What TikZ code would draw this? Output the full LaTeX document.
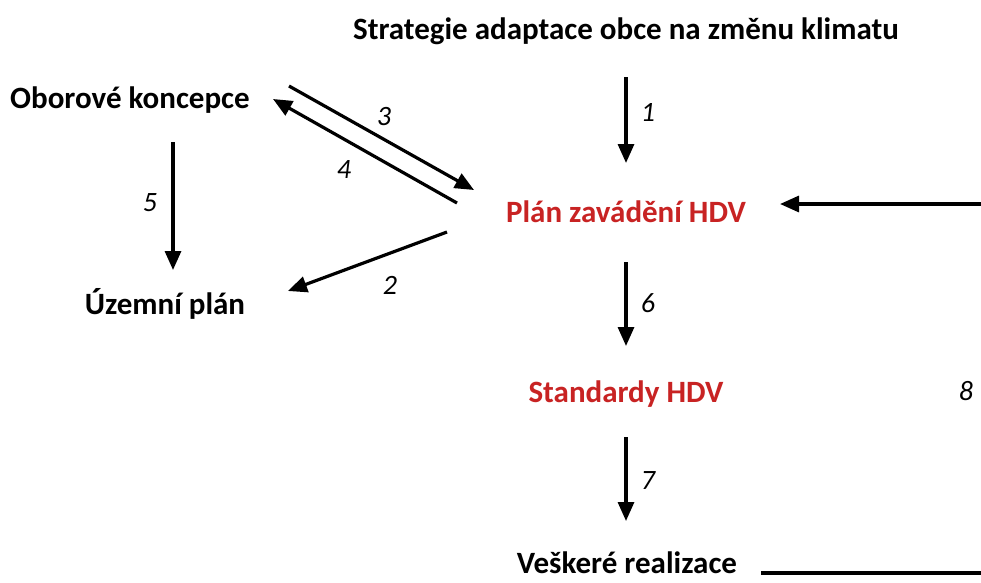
\documentclass[tikz,border=0pt]{standalone}
\usepackage{fontspec}
\setmainfont{Carlito}
\usetikzlibrary{arrows.meta}
\definecolor{hdvred}{RGB}{200,35,35}
\begin{document}
\begin{tikzpicture}[x=1pt,y=-1pt,
  lbl/.style={font=\fontsize{31}{36}\selectfont\bfseries,inner sep=0pt,anchor=center},
  redlbl/.style={lbl,text=hdvred},
  num/.style={font=\fontsize{28}{32}\selectfont\itshape,inner sep=0pt},
  arr/.style={line width=3.2pt,-{Triangle[length=19pt,width=16pt]}},
  ln/.style={line width=3.2pt}]
\fill[white] (0,0) rectangle (981,582);
\useasboundingbox (0,0) rectangle (981,582);
\clip (0,0) rectangle (981,582);
% texts
\node[lbl] (strat) at (626,31) {Strategie adaptace obce na změnu klimatu};
\node[lbl] (obor) at (130,100) {Oborové koncepce};
\node[lbl] (uzem) at (165,304) {Územní plán};
\node[redlbl] (plan) at (626,212) {Plán zavádění HDV};
\node[redlbl] (std) at (626,394) {Standardy HDV};
\node[lbl] (real) at (627,563) {Veškeré realizace};
% connector end points
\coordinate (a1s) at (626,77);  \coordinate (a1e) at (626,163);
\coordinate (a6s) at (626,262); \coordinate (a6e) at (626,346);
\coordinate (a7s) at (626,437); \coordinate (a7e) at (626,521);
\coordinate (a5s) at (173,142); \coordinate (a5e) at (173,270);
\coordinate (a3s) at (289,86);  \coordinate (a3e) at (474,190);
\coordinate (a4s) at (457,203); \coordinate (a4e) at (273,99);
\coordinate (a2s) at (447,232); \coordinate (a2e) at (288,291);
\coordinate (a8s) at (761,573); \coordinate (a8r) at (985,573);
\coordinate (a8t) at (985,204); \coordinate (a8e) at (780,204);
% arrows
\draw[arr] (a1s) -- (a1e);
\draw[arr] (a6s) -- (a6e);
\draw[arr] (a7s) -- (a7e);
\draw[arr] (a5s) -- (a5e);
\draw[arr] (a3s) -- (a3e);
\draw[arr] (a4s) -- (a4e);
\draw[arr] (a2s) -- (a2e);
\draw[arr] (a8s) -- (a8r) -- (a8t) -- (a8e);
% numbers
\node[num] (n1) at (648,112) {1};
\node[num] (n6) at (648,303) {6};
\node[num] (n7) at (648,481) {7};
\node[num] (n5) at (150,203) {5};
\node[num] (n3) at (384,117) {3};
\node[num] (n4) at (344,170) {4};
\node[num] (n2) at (390,285) {2};
\node[num] (n8) at (966,391) {8};
\end{tikzpicture}
\end{document}
